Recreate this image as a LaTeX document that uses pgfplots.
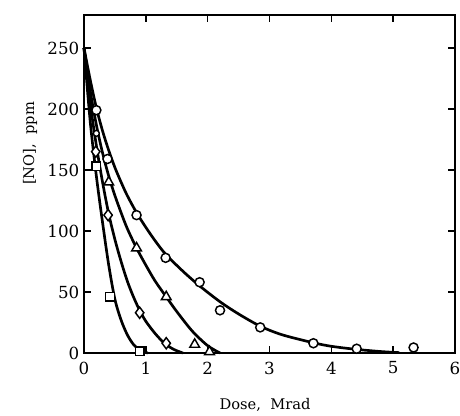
\documentclass[border=0pt]{standalone}
\usepackage{fontspec}
\setmainfont{DejaVu Serif}
\usepackage{pgfplots}
\pgfplotsset{compat=1.18}
\begin{document}
\begin{tikzpicture}
\begin{axis}[
  scale only axis, width=278.25pt, height=253.5pt,
  xmin=0, xmax=6, ymin=0, ymax=277,
  xtick={0,1,2,3,4,5,6}, ytick={0,50,100,150,200,250},
  /pgf/number format/assume math mode=true,
  tick align=inside, major tick length=5pt,
  axis line style={line width=1.6pt},
  tick style={line width=1.1pt, black},
  ticklabel style={font=\fontsize{12.5}{14}\selectfont},
  xticklabel style={yshift=-3pt},
  xlabel={Dose,\ \ Mrad}, ylabel={[NO],\ \ ppm},
  label style={font=\fontsize{11}{13}\selectfont},
  xlabel style={at={(axis description cs:0.488,-0.155)}, anchor=center},
  ylabel style={at={(axis description cs:-0.1455,0.62)}, anchor=center, rotate=0},
  clip=false,
]
% fitted curves
\addplot[smooth, line width=2pt] coordinates {
 (0,250) (0.1,224) (0.2,201) (0.3,182) (0.4,166) (0.5,152) (0.6,140) (0.7,129)
 (0.85,115) (1.0,103) (1.15,92) (1.32,81) (1.6,67) (1.87,55) (2.2,42) (2.5,32)
 (2.85,22) (3.2,15) (3.7,8.5) (4.0,5.5) (4.4,3) (4.8,1.2) (5.1,0.3)};
\addplot[smooth, line width=2pt] coordinates {
 (0,250) (0.1,215) (0.2,187) (0.3,164) (0.4,145) (0.5,129) (0.6,115) (0.7,102)
 (0.85,86) (1.0,72) (1.15,59) (1.33,46) (1.5,34) (1.75,18) (2.0,6) (2.2,0)};
\addplot[smooth, line width=2pt] coordinates {
 (0,250) (0.1,205) (0.2,170) (0.3,140) (0.4,114) (0.5,93) (0.6,75) (0.7,59)
 (0.8,46) (0.9,35) (1.0,26) (1.15,16) (1.3,8) (1.45,3) (1.6,0)};
\addplot[smooth, line width=2pt] coordinates {
 (0,250) (0.1,190) (0.2,145) (0.3,107) (0.4,72) (0.5,44) (0.6,27) (0.7,15)
 (0.8,7) (0.9,2.5) (1.03,0)};
% data points
\addplot[only marks, mark=*, mark size=3.4pt, mark options={fill=white, draw=black, line width=1.1pt}] coordinates {
 (0.2,199) (0.38,159) (0.85,113) (1.32,78) (1.87,58) (2.2,35) (2.85,21) (3.71,8) (4.41,3.5) (5.33,4.5)};
\addplot[only marks, mark=*, mark size=2.2pt, mark options={fill=white, draw=black, line width=1pt}] coordinates {
 (0.2,180)};
\addplot[only marks, mark=triangle*, mark size=4.2pt, mark options={fill=white, draw=black, line width=1.1pt}] coordinates {
 (0.4,140) (0.85,86) (1.33,46) (1.79,7) (2.03,1)};
\addplot[only marks, mark=diamond*, mark size=4.2pt, mark options={fill=white, draw=black, line width=1.1pt}] coordinates {
 (0.19,165) (0.39,113) (0.9,33) (1.33,8)};
\addplot[only marks, mark=square*, mark size=3.2pt, mark options={fill=white, draw=black, line width=1.1pt}] coordinates {
 (0.2,153) (0.42,46) (0.9,1.5)};
\end{axis}
\pgfresetboundingbox
\path[use as bounding box] ([shift={(-63pt,-46.5pt)}]current axis.south west) rectangle ([shift={(3.75pt,11.25pt)}]current axis.north east);
\end{tikzpicture}
\end{document}
